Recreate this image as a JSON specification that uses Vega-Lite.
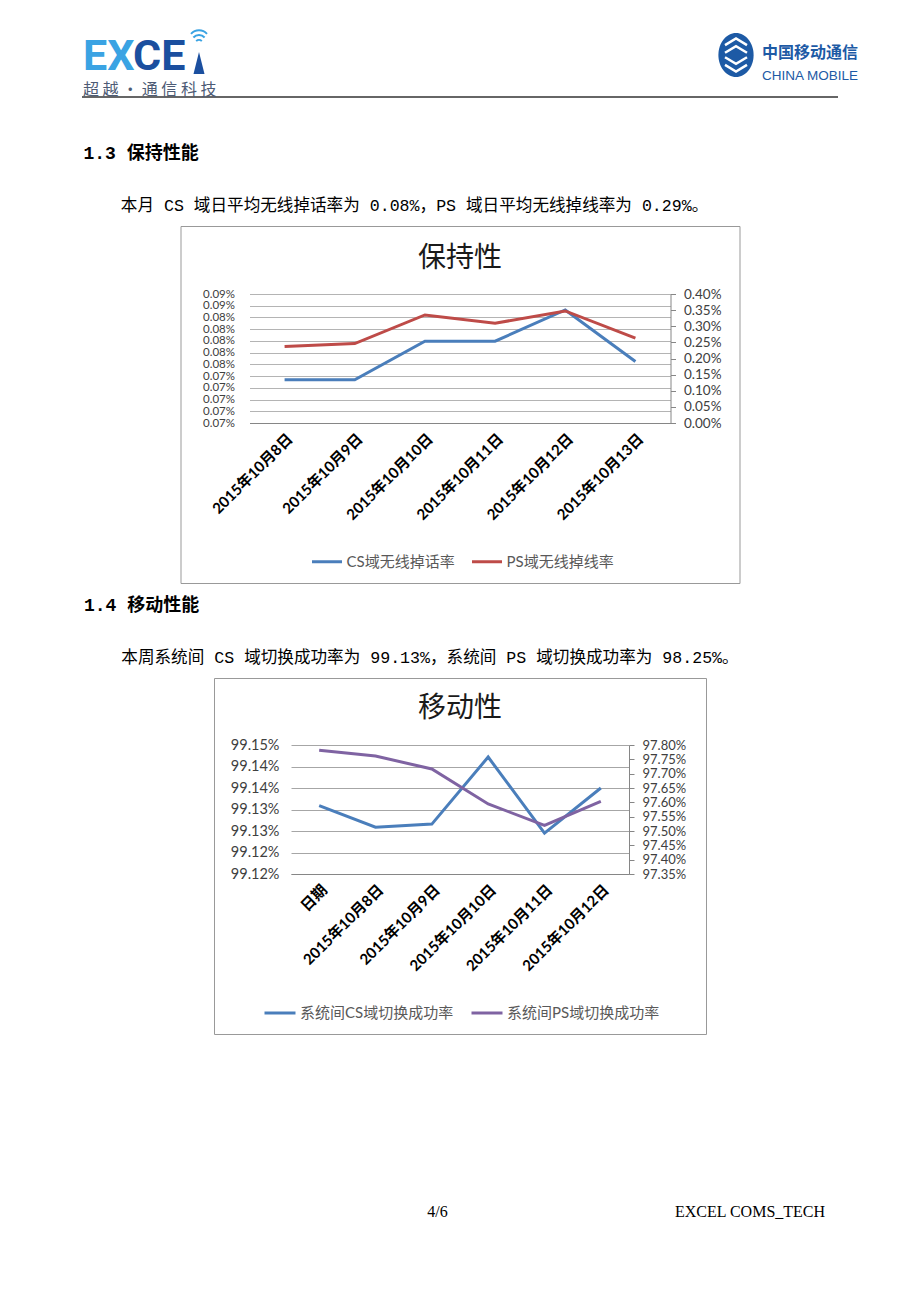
{
  "$schema": "https://vega.github.io/schema/vega-lite/v6.json",
  "background": "white",
  "padding": {"left": 81, "top": 20, "right": 0, "bottom": 0},
  "bounds": "flush",
  "center": true,
  "spacing": 95,
  "config": {"view": {"stroke": null}, "font": "Noto Sans CJK SC"},
  "resolve": {"scale": {"color": "independent"}, "legend": {"color": "independent"}},
  "vconcat": [
    {
      "width": 756,
      "height": 111,
      "layer": [
        {
          "data": {"values": [{"行": "线"}]},
          "mark": {"type": "rule", "color": "#333333", "strokeWidth": 1.5},
          "encoding": {
            "y": {"field": "行", "type": "nominal", "scale": {"type": "point", "domain": ["上", "下", "线"], "range": [32.5, 77], "padding": 0}, "axis": null}
          }
        },
        {
          "data": {"values": [{"文字": "EX", "侧": "左", "行": "上"}]},
          "mark": {"type": "text", "font": "Roboto", "fontSize": 43, "fontWeight": "bold", "color": "#3aa3e3", "align": "left", "baseline": "middle", "dy": 4},
          "encoding": {
            "x": {"field": "侧", "type": "nominal", "scale": {"type": "point", "domain": ["左", "右"], "range": [1, 680], "padding": 0}, "axis": null},
            "y": {"field": "行", "type": "nominal", "scale": {"type": "point", "domain": ["上", "下", "线"], "range": [32.5, 77], "padding": 0}, "axis": null},
            "text": {"field": "文字"}
          }
        },
        {
          "data": {"values": [{"文字": "CE", "侧": "左", "行": "上"}]},
          "mark": {"type": "text", "font": "Roboto", "fontSize": 43, "fontWeight": "bold", "color": "#1b4f9f", "align": "left", "baseline": "middle", "dy": 4, "dx": 50},
          "encoding": {
            "x": {"field": "侧", "type": "nominal", "scale": {"type": "point", "domain": ["左", "右"], "range": [1, 680], "padding": 0}, "axis": null},
            "y": {"field": "行", "type": "nominal", "scale": {"type": "point", "domain": ["上", "下", "线"], "range": [32.5, 77], "padding": 0}, "axis": null},
            "text": {"field": "文字"}
          }
        },
        {
          "data": {"values": [{"侧": "左", "行": "上"}]},
          "mark": {"type": "point", "shape": "M0,-1L0.5,1L-0.5,1Z", "filled": true, "opacity": 1, "color": "#1b4f9f", "size": 484, "xOffset": 116, "yOffset": 10.5},
          "encoding": {
            "x": {"field": "侧", "type": "nominal", "scale": {"type": "point", "domain": ["左", "右"], "range": [1, 680], "padding": 0}, "axis": null},
            "y": {"field": "行", "type": "nominal", "scale": {"type": "point", "domain": ["上", "下", "线"], "range": [32.5, 77], "padding": 0}, "axis": null}
          }
        },
        {
          "data": {"values": [{"侧": "左", "行": "上"}]},
          "mark": {"type": "point", "shape": "M-0.35,0.7A0.5,0.5,0,0,1,0.35,0.7M-0.7,0.25A0.95,0.95,0,0,1,0.7,0.25M-1,-0.2A1.35,1.35,0,0,1,1,-0.2", "filled": false, "opacity": 1, "color": "#3aa3e3", "strokeWidth": 2, "size": 256, "xOffset": 116, "yOffset": -17},
          "encoding": {
            "x": {"field": "侧", "type": "nominal", "scale": {"type": "point", "domain": ["左", "右"], "range": [1, 680], "padding": 0}, "axis": null},
            "y": {"field": "行", "type": "nominal", "scale": {"type": "point", "domain": ["上", "下", "线"], "range": [32.5, 77], "padding": 0}, "axis": null}
          }
        },
        {
          "data": {"values": [{"文字": "超 越 · 通 信 科 技", "侧": "左", "行": "下"}]},
          "mark": {"type": "text", "font": "Noto Sans CJK SC", "fontSize": 16, "color": "#4d5b75", "align": "left", "baseline": "middle", "dy": 15.5},
          "encoding": {
            "x": {"field": "侧", "type": "nominal", "scale": {"type": "point", "domain": ["左", "右"], "range": [1, 680], "padding": 0}, "axis": null},
            "y": {"field": "行", "type": "nominal", "scale": {"type": "point", "domain": ["上", "下", "线"], "range": [32.5, 77], "padding": 0}, "axis": null},
            "text": {"field": "文字"}
          }
        },
        {
          "data": {"values": [{"侧": "右", "行": "上"}]},
          "mark": {"type": "point", "shape": "M0,-1A0.8,1,0,1,1,0,1A0.8,1,0,1,1,0,-1Z", "filled": true, "opacity": 1, "color": "#1d5aa5", "size": 1936, "xOffset": -26, "yOffset": 2.5},
          "encoding": {
            "x": {"field": "侧", "type": "nominal", "scale": {"type": "point", "domain": ["左", "右"], "range": [1, 680], "padding": 0}, "axis": null},
            "y": {"field": "行", "type": "nominal", "scale": {"type": "point", "domain": ["上", "下", "线"], "range": [32.5, 77], "padding": 0}, "axis": null}
          }
        },
        {
          "data": {"values": [{"侧": "右", "行": "上"}]},
          "mark": {"type": "point", "shape": "M-0.5,-0.45L0,-0.75L0.5,-0.45M-0.5,-0.1L0,-0.4L0.5,-0.1M-0.5,0.1L0,0.4L0.5,0.1M-0.5,0.45L0,0.75L0.5,0.45", "filled": false, "opacity": 1, "color": "#ffffff", "strokeWidth": 2.5, "size": 1936, "xOffset": -26, "yOffset": 2.5},
          "encoding": {
            "x": {"field": "侧", "type": "nominal", "scale": {"type": "point", "domain": ["左", "右"], "range": [1, 680], "padding": 0}, "axis": null},
            "y": {"field": "行", "type": "nominal", "scale": {"type": "point", "domain": ["上", "下", "线"], "range": [32.5, 77], "padding": 0}, "axis": null}
          }
        },
        {
          "data": {"values": [{"文字": "中国移动通信", "侧": "右", "行": "上"}]},
          "mark": {"type": "text", "font": "Noto Sans CJK SC", "fontSize": 16, "fontWeight": "bold", "color": "#1d5aa5", "align": "left", "baseline": "middle"},
          "encoding": {
            "x": {"field": "侧", "type": "nominal", "scale": {"type": "point", "domain": ["左", "右"], "range": [1, 680], "padding": 0}, "axis": null},
            "y": {"field": "行", "type": "nominal", "scale": {"type": "point", "domain": ["上", "下", "线"], "range": [32.5, 77], "padding": 0}, "axis": null},
            "text": {"field": "文字"}
          }
        },
        {
          "data": {"values": [{"文字": "CHINA MOBILE", "侧": "右", "行": "下"}]},
          "mark": {"type": "text", "font": "Liberation Sans", "fontSize": 13.5, "color": "#1d5aa5", "align": "left", "baseline": "middle", "dy": 1},
          "encoding": {
            "x": {"field": "侧", "type": "nominal", "scale": {"type": "point", "domain": ["左", "右"], "range": [1, 680], "padding": 0}, "axis": null},
            "y": {"field": "行", "type": "nominal", "scale": {"type": "point", "domain": ["上", "下", "线"], "range": [32.5, 77], "padding": 0}, "axis": null},
            "text": {"field": "文字"}
          }
        }
      ]
    },
    {
      "width": 559,
      "height": 357,
      "view": {"stroke": "#999999", "strokeWidth": 1},
      "title": {
        "text": "1.3 保持性能",
        "subtitle": "\u200b\u3000\u3000\u2005本月 CS 域日平均无线掉话率为 0.08%，PS 域日平均无线掉线率为 0.29%。",
        "anchor": "start", "frame": "group", "dx": -97, "offset": 11,
        "font": "Liberation Mono, Noto Sans CJK SC", "fontSize": 18, "fontWeight": "bold", "color": "#000000",
        "subtitleFont": "Liberation Mono, Noto Sans CJK SC", "subtitleFontSize": 16.6, "subtitleColor": "#000000", "subtitlePadding": 35
      },
      "data": {"values": [
        {"指标": "CS域无线掉话率", "日期": "2015年10月8日", "值": 0.00073367},
        {"指标": "CS域无线掉话率", "日期": "2015年10月9日", "值": 0.00073367},
        {"指标": "CS域无线掉话率", "日期": "2015年10月10日", "值": 0.00079952},
        {"指标": "CS域无线掉话率", "日期": "2015年10月11日", "值": 0.00079952},
        {"指标": "CS域无线掉话率", "日期": "2015年10月12日", "值": 0.00085278},
        {"指标": "CS域无线掉话率", "日期": "2015年10月13日", "值": 0.00076481},
        {"指标": "PS域无线掉线率", "日期": "2015年10月8日", "值": 0.002370},
        {"指标": "PS域无线掉线率", "日期": "2015年10月9日", "值": 0.002462},
        {"指标": "PS域无线掉线率", "日期": "2015年10月10日", "值": 0.003350},
        {"指标": "PS域无线掉线率", "日期": "2015年10月11日", "值": 0.003094},
        {"指标": "PS域无线掉线率", "日期": "2015年10月12日", "值": 0.003474},
        {"指标": "PS域无线掉线率", "日期": "2015年10月13日", "值": 0.002630}
      ]},
      "layer": [
        {
          "data": {"values": [{"标题": "保持性"}]},
          "mark": {"type": "text", "font": "Noto Sans CJK SC", "fontSize": 28, "color": "#1a1a1a", "baseline": "middle", "dy": -145.5},
          "encoding": {"text": {"field": "标题"}}
        },
        {
          "transform": [{"filter": "datum['指标'] === 'CS域无线掉话率'"}],
          "mark": {"type": "line", "strokeWidth": 3},
          "encoding": {
            "x": {"field": "日期", "type": "nominal", "sort": null,
              "scale": {"type": "point", "padding": 0.5, "range": [69, 490]},
              "axis": {"orient": "bottom", "offset": -160, "title": null, "labelAngle": -45, "labelFont": "Lato, Noto Sans CJK SC", "labelFontSize": 15, "labelFontWeight": "bold", "labelColor": "#000000", "ticks": false, "domainColor": "#868686", "labelPadding": 8, "grid": false, "labelOverlap": false}},
            "y": {"field": "值", "type": "quantitative",
              "scale": {"domain": [0.00066, 0.00088], "range": [197, 68], "nice": false, "zero": false},
              "axis": {"orient": "left", "offset": -69, "title": null, "values": [0.00066, 0.00068, 0.0007, 0.00072, 0.00074, 0.00076, 0.00078, 0.0008, 0.00082, 0.00084, 0.00086, 0.00088], "format": ".2%", "grid": true, "gridColor": "#b4b4b4", "gridWidth": 1, "domain": false, "ticks": false, "tickSize": 0, "labelPadding": 15, "labelFont": "Lato", "labelFontSize": 11.5, "labelColor": "#404040", "labelOverlap": false, "labelFlush": false}},
            "color": {"field": "指标", "type": "nominal",
              "scale": {"domain": ["CS域无线掉话率", "PS域无线掉线率"], "range": ["#4a7ebb", "#be4b48"]},
              "legend": {"orient": "none", "legendX": 130, "legendY": 319, "direction": "horizontal", "title": null, "symbolType": "stroke", "symbolSize": 900, "symbolStrokeWidth": 3, "labelFont": "Lato, Noto Sans CJK SC", "labelFontSize": 15, "labelColor": "#595959", "columnPadding": 10, "labelOffset": 3, "padding": 0}}
          }
        },
        {
          "transform": [{"filter": "datum['指标'] === 'PS域无线掉线率'"}],
          "mark": {"type": "line", "strokeWidth": 3},
          "encoding": {
            "x": {"field": "日期", "type": "nominal", "sort": null,
              "scale": {"type": "point", "padding": 0.5, "range": [69, 490]},
              "axis": {"orient": "bottom", "offset": -160, "title": null, "labelAngle": -45, "labelFont": "Lato, Noto Sans CJK SC", "labelFontSize": 15, "labelFontWeight": "bold", "labelColor": "#000000", "ticks": false, "domainColor": "#868686", "labelPadding": 8, "grid": false, "labelOverlap": false}},
            "y": {"field": "值", "type": "quantitative",
              "scale": {"domain": [0, 0.004], "range": [197, 68], "nice": false, "zero": false},
              "axis": {"orient": "right", "offset": -69, "title": null, "values": [0, 0.0005, 0.001, 0.0015, 0.002, 0.0025, 0.003, 0.0035, 0.004], "format": ".2%", "grid": false, "domain": true, "domainColor": "#868686", "ticks": true, "tickColor": "#868686", "tickSize": 5, "labelPadding": 8, "labelFont": "Lato", "labelFontSize": 13.5, "labelColor": "#404040", "labelOverlap": false, "labelFlush": false}},
            "color": {"field": "指标", "type": "nominal",
              "scale": {"domain": ["CS域无线掉话率", "PS域无线掉线率"], "range": ["#4a7ebb", "#be4b48"]}}
          }
        }
      ],
      "resolve": {"scale": {"y": "independent"}, "axis": {"y": "independent"}}
    },
    {
      "width": 492,
      "height": 356,
      "view": {"stroke": "#999999", "strokeWidth": 1},
      "title": {
        "text": "1.4 移动性能",
        "subtitle": "\u200b\u3000\u3000\u2005本周系统间 CS 域切换成功率为 99.13%，系统间 PS 域切换成功率为 98.25%。",
        "anchor": "start", "frame": "group", "dx": -130, "offset": 11,
        "font": "Liberation Mono, Noto Sans CJK SC", "fontSize": 18, "fontWeight": "bold", "color": "#000000",
        "subtitleFont": "Liberation Mono, Noto Sans CJK SC", "subtitleFontSize": 16.6, "subtitleColor": "#000000", "subtitlePadding": 35
      },
      "data": {"values": [
        {"指标": "系统间CS域切换成功率", "日期": "日期", "值": 0.991319},
        {"指标": "系统间CS域切换成功率", "日期": "2015年10月8日", "值": 0.991269},
        {"指标": "系统间CS域切换成功率", "日期": "2015年10月9日", "值": 0.991276},
        {"指标": "系统间CS域切换成功率", "日期": "2015年10月10日", "值": 0.991432},
        {"指标": "系统间CS域切换成功率", "日期": "2015年10月11日", "值": 0.991255},
        {"指标": "系统间CS域切换成功率", "日期": "2015年10月12日", "值": 0.99136},
        {"指标": "系统间PS域切换成功率", "日期": "日期", "值": 0.977814},
        {"指标": "系统间PS域切换成功率", "日期": "2015年10月8日", "值": 0.977616},
        {"指标": "系统间PS域切换成功率", "日期": "2015年10月9日", "值": 0.977163},
        {"指标": "系统间PS域切换成功率", "日期": "2015年10月10日", "值": 0.975942},
        {"指标": "系统间PS域切换成功率", "日期": "2015年10月11日", "值": 0.975198},
        {"指标": "系统间PS域切换成功率", "日期": "2015年10月12日", "值": 0.976035}
      ]},
      "layer": [
        {
          "data": {"values": [{"标题": "移动性"}]},
          "mark": {"type": "text", "font": "Noto Sans CJK SC", "fontSize": 28, "color": "#1a1a1a", "baseline": "middle", "dy": -147},
          "encoding": {"text": {"field": "标题"}}
        },
        {
          "transform": [{"filter": "datum['指标'] === '系统间CS域切换成功率'"}],
          "mark": {"type": "line", "strokeWidth": 3},
          "encoding": {
            "x": {"field": "日期", "type": "nominal", "sort": null,
              "scale": {"type": "point", "padding": 0.5, "range": [77, 415]},
              "axis": {"orient": "bottom", "offset": -160, "title": null, "labelAngle": -45, "labelFont": "Lato, Noto Sans CJK SC", "labelFontSize": 15, "labelFontWeight": "bold", "labelColor": "#000000", "ticks": false, "domainColor": "#868686", "labelPadding": 8, "grid": false, "labelOverlap": false}},
            "y": {"field": "值", "type": "quantitative",
              "scale": {"domain": [0.99116, 0.99146], "range": [196, 67], "nice": false, "zero": false},
              "axis": {"orient": "left", "offset": -77, "title": null, "values": [0.99116, 0.99121, 0.99126, 0.99131, 0.99136, 0.99141, 0.99146], "format": ".2%", "grid": true, "gridColor": "#a6a6a6", "gridWidth": 1, "domain": false, "ticks": false, "tickSize": 0, "labelPadding": 12, "labelFont": "Lato", "labelFontSize": 14.5, "labelColor": "#404040", "labelOverlap": false, "labelFlush": false}},
            "color": {"field": "指标", "type": "nominal",
              "scale": {"domain": ["系统间CS域切换成功率", "系统间PS域切换成功率"], "range": ["#4a7ebb", "#7f63a2"]},
              "legend": {"orient": "none", "legendX": 49, "legendY": 318, "direction": "horizontal", "title": null, "symbolType": "stroke", "symbolSize": 961, "symbolStrokeWidth": 3, "labelFont": "Lato, Noto Sans CJK SC", "labelFontSize": 15, "labelColor": "#595959", "columnPadding": 11, "labelOffset": 3, "padding": 0}}
          }
        },
        {
          "transform": [{"filter": "datum['指标'] === '系统间PS域切换成功率'"}],
          "mark": {"type": "line", "strokeWidth": 3},
          "encoding": {
            "x": {"field": "日期", "type": "nominal", "sort": null,
              "scale": {"type": "point", "padding": 0.5, "range": [77, 415]},
              "axis": {"orient": "bottom", "offset": -160, "title": null, "labelAngle": -45, "labelFont": "Lato, Noto Sans CJK SC", "labelFontSize": 15, "labelFontWeight": "bold", "labelColor": "#000000", "ticks": false, "domainColor": "#868686", "labelPadding": 8, "grid": false, "labelOverlap": false}},
            "y": {"field": "值", "type": "quantitative",
              "scale": {"domain": [0.9735, 0.978], "range": [196, 67], "nice": false, "zero": false},
              "axis": {"orient": "right", "offset": -77, "title": null, "values": [0.9735, 0.974, 0.9745, 0.975, 0.9755, 0.976, 0.9765, 0.977, 0.9775, 0.978], "format": ".2%", "grid": false, "domain": true, "domainColor": "#868686", "ticks": true, "tickColor": "#868686", "tickSize": 5, "labelPadding": 8, "labelFont": "Lato", "labelFontSize": 13, "labelColor": "#404040", "labelOverlap": false, "labelFlush": false}},
            "color": {"field": "指标", "type": "nominal",
              "scale": {"domain": ["系统间CS域切换成功率", "系统间PS域切换成功率"], "range": ["#4a7ebb", "#7f63a2"]}}
          }
        }
      ],
      "resolve": {"scale": {"y": "independent"}, "axis": {"y": "independent"}}
    },
    {
      "width": 756,
      "height": 166,
      "data": {"values": [
        {"文字": "4/6", "位置": "页码"},
        {"文字": "EXCEL COMS_TECH", "位置": "页脚"}
      ]},
      "mark": {"type": "text", "font": "Liberation Serif", "fontSize": 16, "color": "#000000", "align": "center", "baseline": "middle"},
      "encoding": {
        "x": {"field": "位置", "type": "nominal", "scale": {"type": "point", "domain": ["页码", "页脚"], "range": [355.5, 668], "padding": 0}, "axis": null},
        "text": {"field": "文字"}
      }
    }
  ]
}
